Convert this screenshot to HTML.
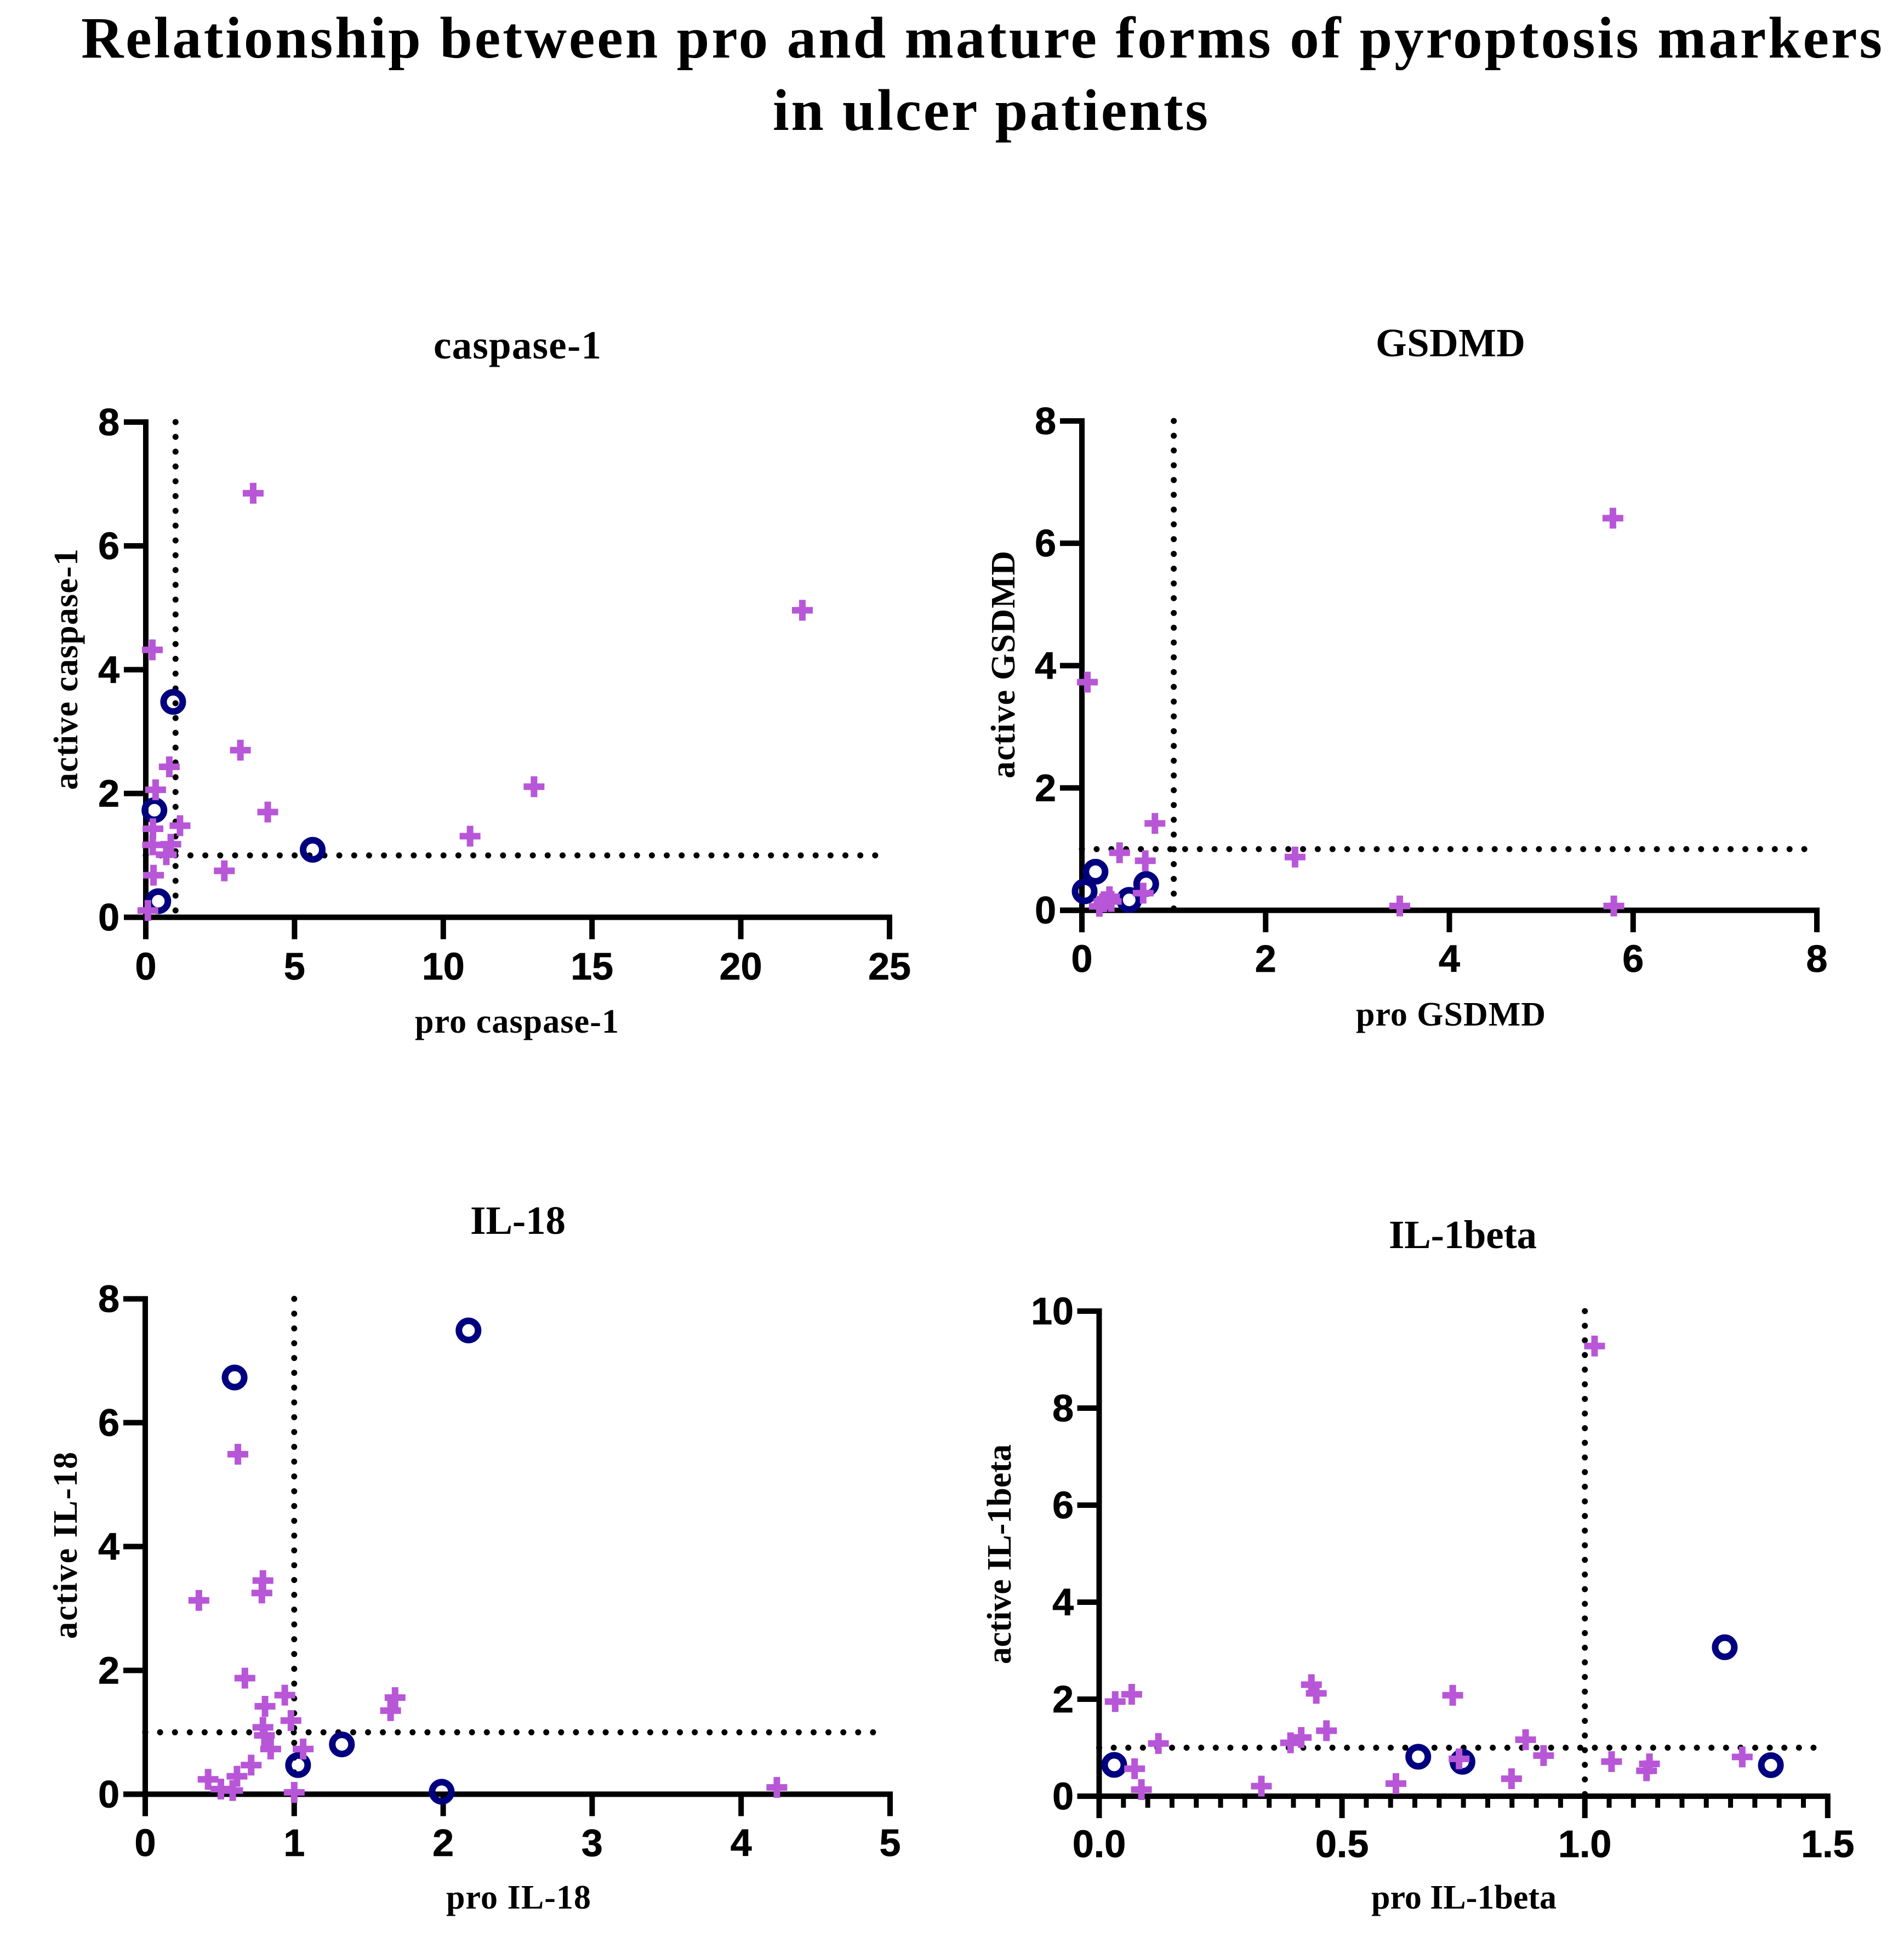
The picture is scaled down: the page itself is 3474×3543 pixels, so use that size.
<!DOCTYPE html>
<html lang="en">
<head>
<meta charset="utf-8">
<title>Relationship between pro and mature forms of pyroptosis markers in ulcer patients</title>
<style>
html,body{margin:0;padding:0;background:#fff;}
svg{display:block;}
.serif{font-family:"Liberation Serif","Times New Roman",serif;font-weight:700;fill:#000;}
.tick{font-family:"Liberation Sans",Arial,sans-serif;font-weight:700;font-size:70px;fill:#000;stroke:#000;stroke-width:0.8px;}
.main{font-size:107px;}
.ptitle{font-size:73px;}
.alabel{font-size:62px;}
</style>
</head>
<body>
<svg id="figure" xmlns="http://www.w3.org/2000/svg" width="3474" height="3543" viewBox="0 0 3474 3543">
  <rect x="0" y="0" width="3474" height="3543" fill="#fff"/>
  <text class="serif main" x="148" y="105" textLength="3286" lengthAdjust="spacing">Relationship between pro and mature forms of pyroptosis markers</text>
  <text class="serif main" x="1410" y="237" textLength="794" lengthAdjust="spacing">in ulcer patients</text>

  <g id="panel-caspase">
    <text class="serif ptitle" x="791" y="654" textLength="306" lengthAdjust="spacing">caspase-1</text>
    <text class="serif alabel" x="757" y="1884" textLength="372" lengthAdjust="spacing">pro caspase-1</text>
    <text class="serif alabel" transform="translate(141,1441) rotate(-90)" textLength="440" lengthAdjust="spacing">active caspase-1</text>
  </g>
  <g id="panel-gsdmd">
    <text class="serif ptitle" x="2510" y="650" textLength="273" lengthAdjust="spacing">GSDMD</text>
    <text class="serif alabel" x="2474" y="1871" textLength="346" lengthAdjust="spacing">pro GSDMD</text>
    <text class="serif alabel" transform="translate(1851,1420) rotate(-90)" textLength="415" lengthAdjust="spacing">active GSDMD</text>
  </g>
  <g id="panel-il18">
    <text class="serif ptitle" x="858" y="2251" textLength="174" lengthAdjust="spacing">IL-18</text>
    <text class="serif alabel" x="814" y="3482" textLength="264" lengthAdjust="spacing">pro IL-18</text>
    <text class="serif alabel" transform="translate(140,2990) rotate(-90)" textLength="341" lengthAdjust="spacing">active IL-18</text>
  </g>
  <g id="panel-il1b">
    <text class="serif ptitle" x="2534" y="2277" textLength="270" lengthAdjust="spacing">IL-1beta</text>
    <text class="serif alabel" x="2502" y="3482" textLength="338" lengthAdjust="spacing">pro IL-1beta</text>
    <text class="serif alabel" transform="translate(1844,3036) rotate(-90)" textLength="401" lengthAdjust="spacing">active IL-1beta</text>
  </g>
</svg>
<script>
/* ---------- caspase-1 data ---------- */
const caspaseXTicks = [0, 5, 10, 15, 20, 25];
const caspaseYTicks = [0, 2, 4, 6, 8];
const caspasePlusPro = [0.22, 3.61, 3.18, 0.79, 0.33, 1.15, 0.24, 4.10, 0.23, 0.84, 0.69, 0.26, 2.64, 0.07, 10.9, 13.05, 22.07];
const caspasePlusActive = [4.32, 6.85, 2.70, 2.43, 2.06, 1.48, 1.43, 1.70, 1.17, 1.18, 1.01, 0.68, 0.75, 0.11, 1.31, 2.11, 4.96];
const caspaseCirclePro = [0.92, 0.29, 5.61, 0.42];
const caspaseCircleActive = [3.48, 1.73, 1.09, 0.26];

/* ---------- GSDMD data ---------- */
const gsdmdXTicks = [0, 2, 4, 6, 8];
const gsdmdYTicks = [0, 2, 4, 6, 8];
const gsdmdPlusPro = [0.795, 0.41, 0.69, 2.32, 0.667, 0.30, 0.19, 0.32, 0.24, 0.06, 5.78, 3.46, 5.79];
const gsdmdPlusActive = [1.42, 0.94, 0.81, 0.87, 0.28, 0.22, 0.064, 0.144, 0.14, 3.73, 6.41, 0.07, 0.07];
const gsdmdCirclePro = [0.148, 0.03, 0.515, 0.70];
const gsdmdCircleActive = [0.63, 0.31, 0.17, 0.43];

/* ---------- IL-18 data ---------- */
const il18XTicks = [0, 1, 2, 3, 4, 5];
const il18YTicks = [0, 2, 4, 6, 8];
const il18PlusPro = [0.36, 0.783, 0.669, 0.937, 1.677, 1.647, 0.804, 0.978, 0.79, 0.80, 0.842, 1.06, 0.711, 0.616, 0.422, 0.508, 0.587, 1.0, 0.622, 0.79, 4.24];
const il18PlusActive = [3.13, 3.25, 1.875, 1.60, 1.56, 1.35, 1.42, 1.19, 1.08, 0.95, 0.73, 0.73, 0.47, 0.29, 0.24, 0.083, 0.06, 0.03, 5.49, 3.45, 0.11];
const il18CirclePro = [1.026, 1.32, 1.99, 0.60, 2.17];
const il18CircleActive = [0.47, 0.805, 0.04, 6.73, 7.49];

/* ---------- IL-1beta data ---------- */
const il1bXTicks = ["0.0", "0.5", "1.0", "1.5"];
const il1bYTicks = [0, 2, 4, 6, 8, 10];
const il1bMinorStep = [0.05];
const il1bPlusPro = [0.073, 0.087, 0.122, 0.334, 0.394, 0.416, 0.468, 0.611, 0.741, 0.849, 0.878, 0.915, 1.055, 1.133, 1.127, 1.324, 1.02, 0.033, 0.067, 0.437, 0.447, 0.728];
const il1bPlusActive = [0.566, 0.136, 1.086, 0.207, 1.10, 1.21, 1.35, 0.26, 0.77, 0.36, 1.165, 0.837, 0.713, 0.667, 0.524, 0.81, 9.28, 1.95, 2.10, 2.30, 2.12, 2.08];
const il1bCirclePro = [0.031, 0.657, 0.748, 1.383, 1.288];
const il1bCircleActive = [0.645, 0.814, 0.709, 0.64, 3.07];

/* threshold guide value shared by every panel */
const thresholdValue = [1];

const NS = 'http://www.w3.org/2000/svg';
const PLUS = '#b856d8';
const NAVY = '#00007f';
const STROKE = 10;
const PLUS_HALF = 19;
const PLUS_STROKE = 12;
const CIRCLE_R = 17.5;
const CIRCLE_STROKE = 12;
const DOT = 11;

function el(tag, attrs, parent) {
  const e = document.createElementNS(NS, tag);
  for (const k in attrs) e.setAttribute(k, attrs[k]);
  parent.appendChild(e);
  return e;
}

function drawPanel(p) {
  const g = document.getElementById(p.id);
  const sx = v => p.x0 + (v - p.xMin) / (p.xMax - p.xMin) * (p.x1 - p.x0);
  const sy = v => p.y0 - (v - p.yMin) / (p.yMax - p.yMin) * (p.y0 - p.y1);

  /* axes */
  const xAxis = el('line', {x1: p.x0 - 40, y1: p.y0, x2: p.x1 + 5, y2: p.y0, stroke: '#000', 'stroke-width': STROKE}, g);
  
  
  const yAxis = el('line', {x1: p.x0, y1: p.y0 + 40, x2: p.x0, y2: p.y1 - 5, stroke: '#000', 'stroke-width': STROKE}, g);
  
  

  /* minor ticks */
  if (p.minor) {
    const n = Math.round((p.xMax - p.xMin) / p.minor);
    for (let i = 1; i < n; i++) {
      const val = p.xMin + i * p.minor;
      if (i % 10 === 0) continue;
      const mt = el('line', {x1: sx(val), y1: p.y0, x2: sx(val), y2: p.y0 + 21, stroke: '#000', 'stroke-width': 9}, g);
      
      
    }
  }

  /* x ticks */
  p.xTicks.forEach(t => {
    const x = sx(Number(t));
    const tk = el('line', {x1: x, y1: p.y0, x2: x, y2: p.y0 + 40, stroke: '#000', 'stroke-width': STROKE}, g);
    
    
    const lb = el('text', {x: x, y: p.xLabelY, 'text-anchor': 'middle', class: 'tick'}, g);
    
    
    lb.textContent = t;
  });

  /* y ticks */
  p.yTicks.forEach(t => {
    const y = sy(t);
    const tk = el('line', {x1: p.x0 - 40, y1: y, x2: p.x0, y2: y, stroke: '#000', 'stroke-width': STROKE}, g);
    
    
    const lb = el('text', {x: p.yLabelX, y: y + 24, 'text-anchor': 'end', class: 'tick'}, g);
    
    
    lb.textContent = t;
  });

  /* threshold guides */
  const vGuide = el('line', {x1: sx(thresholdValue[0]), y1: p.y1, x2: sx(thresholdValue[0]), y2: p.y0, stroke: '#000', 'stroke-width': DOT, 'stroke-linecap': 'round', 'stroke-dasharray': '0 ' + p.dotV}, g);
  
  
  const hGuide = el('line', {x1: p.x0, y1: sy(thresholdValue[0]), x2: p.hEnd, y2: sy(thresholdValue[0]), stroke: '#000', 'stroke-width': DOT, 'stroke-linecap': 'round', 'stroke-dasharray': '0 ' + p.dotH}, g);
  
  

  /* circle series */
  p.circleX.forEach((v, i) => {
    const c = el('circle', {cx: sx(v), cy: sy(p.circleY[i]), r: CIRCLE_R, fill: 'none', stroke: NAVY, 'stroke-width': CIRCLE_STROKE}, g);
    
    
  });

  /* plus series */
  p.plusX.forEach((v, i) => {
    const x = sx(v), y = sy(p.plusY[i]);
    const m = el('path', {d: 'M' + (x - PLUS_HALF) + ' ' + y + 'H' + (x + PLUS_HALF) + 'M' + x + ' ' + (y - PLUS_HALF) + 'V' + (y + PLUS_HALF), fill: 'none', stroke: PLUS, 'stroke-width': PLUS_STROKE}, g);
    
    
  });
}

drawPanel({id: 'panel-caspase', key: 'caspase-1', x0: 266, x1: 1623, y0: 1673.5, y1: 770, xMin: 0, xMax: 25, yMin: 0, yMax: 8,
  xTicks: caspaseXTicks, yTicks: caspaseYTicks, plusX: caspasePlusPro, plusY: caspasePlusActive, circleX: caspaseCirclePro, circleY: caspaseCircleActive,
  xLabelY: 1787, yLabelX: 218, dotV: 27, dotH: 27.16, hEnd: 1600});
drawPanel({id: 'panel-gsdmd', key: 'gsdmd', x0: 1974, x1: 3315, y0: 1660.7, y1: 768, xMin: 0, xMax: 8, yMin: 0, yMax: 8,
  xTicks: gsdmdXTicks, yTicks: gsdmdYTicks, plusX: gsdmdPlusPro, plusY: gsdmdPlusActive, circleX: gsdmdCirclePro, circleY: gsdmdCircleActive,
  xLabelY: 1773, yLabelX: 1927, dotV: 26.95, dotH: 26.9, hEnd: 3295});
drawPanel({id: 'panel-il18', key: 'il-18', x0: 265, x1: 1624, y0: 3273.4, y1: 2369.6, xMin: 0, xMax: 5, yMin: 0, yMax: 8,
  xTicks: il18XTicks, yTicks: il18YTicks, plusX: il18PlusPro, plusY: il18PlusActive, circleX: il18CirclePro, circleY: il18CircleActive,
  xLabelY: 3386, yLabelX: 218, dotV: 27, dotH: 27.1, hEnd: 1600});
drawPanel({id: 'panel-il1b', key: 'il-1beta', x0: 2005.5, x1: 3334.8, y0: 3277, y1: 2392, xMin: 0, xMax: 1.5, yMin: 0, yMax: 10,
  xTicks: il1bXTicks, yTicks: il1bYTicks, plusX: il1bPlusPro, plusY: il1bPlusActive, circleX: il1bCirclePro, circleY: il1bCircleActive,
  xLabelY: 3388, yLabelX: 1959, dotV: 26.7, dotH: 26.6, hEnd: 3312, minor: il1bMinorStep[0]});
</script>
</body>
</html>
